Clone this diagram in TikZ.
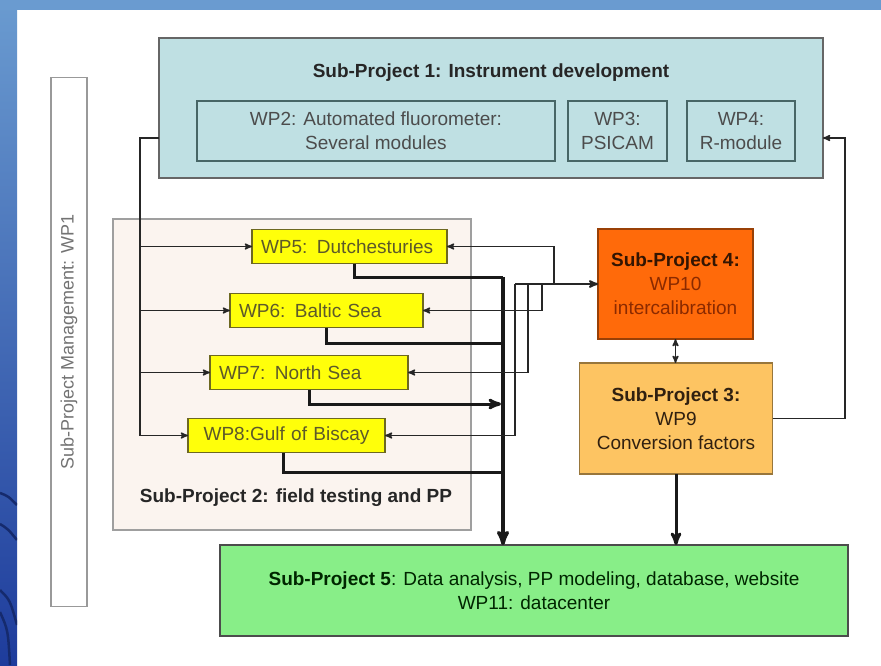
\documentclass[tikz,border=0pt]{standalone}
\usepackage{fontspec}
\setmainfont{Liberation Sans}
\usetikzlibrary{arrows,positioning}

\definecolor{frame}{HTML}{6A9BD0}
\definecolor{framedark}{HTML}{1E3C9C}
\definecolor{spone}{HTML}{BFE0E3}
\definecolor{sptwo}{HTML}{FBF4EF}
\definecolor{wpyellow}{HTML}{FFFF0A}
\definecolor{spfour}{HTML}{FF6A0A}
\definecolor{spthree}{HTML}{FDC462}
\definecolor{spfive}{HTML}{88EE88}
\definecolor{rust}{HTML}{8B2A00}

\tikzstyle{block} = [rectangle, draw=gray!80!black, line width=1.6pt, inner sep=0pt,
    outer sep=0pt, align=center, text=black!85]
\tikzstyle{wpbox} = [rectangle, draw=gray!70!teal!80!black, fill=spone, line width=1.3pt,
    inner sep=0pt, outer sep=0pt, minimum height=60pt, align=center, text=black!70]
\tikzstyle{fieldwp} = [rectangle, draw=olive!70!black, fill=wpyellow, line width=1.3pt,
    inner xsep=9pt, inner ysep=0pt, outer sep=0pt, minimum height=34pt, align=left,
    text=olive!55!black]
\tikzstyle{link} = [draw=black!85, line width=1.5pt]
\tikzstyle{feed} = [draw=black!90, line width=3pt]
\tikzstyle{heading} = [font=\fontsize{19}{24}\selectfont\bfseries, text=black!85]

\begin{document}
\begin{tikzpicture}[x=1pt,y=-1pt,>=stealth',font=\fontsize{19}{24}\selectfont]

  \useasboundingbox (0,0) rectangle (881,665);
  \fill[white] (0,0) rectangle (881,665);
  \shade[top color=frame, bottom color=framedark] (0,0) rectangle (17,665);
  \fill[frame] (0,0) rectangle (881,10);
  \begin{scope}
    \clip (0,0) rectangle (17,665);
    \draw[framedark!70!black, line width=2.5pt] (0,493) .. controls (8,496) .. (17,505);
    \draw[framedark!70!black, line width=2.5pt] (0,524) .. controls (8,529) .. (17,540);
    \draw[framedark!70!black, line width=2.5pt] (0,590) .. controls (10,600) .. (17,625);
    \draw[framedark!70!black, line width=2.5pt] (0,612) .. controls (8,630) .. (10,665);
  \end{scope}

  \node[block, fill=white, draw=gray!80, rotate=90, minimum width=529pt, minimum height=36pt,
        text=gray!90!black, font=\fontsize{18}{22}\selectfont] (wp1) at (69,342)
        {Sub-Project Management: WP1};

  \node[block, fill=spone, minimum width=664pt, minimum height=140pt] (sp1) at (491,108) {};
  \node[heading] (sp1t) at (491,73) {Sub-Project 1: Instrument development};
  \node[wpbox, minimum width=358pt] (wp2) at (376,131) {WP2: Automated fluorometer:\\Several modules};
  \node[wpbox, minimum width=99pt]  (wp3) [right=13pt of wp2] {WP3:\\PSICAM};
  \node[wpbox, minimum width=108pt] (wp4) [right=20pt of wp3] {WP4:\\R-module};

  \node[block, draw=gray!75, fill=sptwo, minimum width=358pt, minimum height=311pt] (sp2) at (292,374.5) {};
  \node[heading] (sp2t) at (296,498) {Sub-Project 2: field testing and PP};
  \node[fieldwp, text width=177pt] (wp5) at (349.5,246.5) {WP5: Dutchesturies};
  \node[fieldwp, text width=175pt] (wp6) at (326.5,310.5) {WP6: Baltic Sea};
  \node[fieldwp, text width=180pt] (wp7) at (309,372.5) {WP7: North Sea};
  \node[fieldwp, text width=179pt, align=center] (wp8) at (286.5,435.5) {WP8:Gulf of Biscay};

  \node[block, draw=spfour!60!black, fill=spfour, minimum width=155pt, minimum height=110pt,
        text=rust] (sp4) at (675.5,284)
        {\textcolor{black!80!spfour}{\bfseries Sub-Project 4:}\\WP10\\intercalibration};
  \node[block, draw=spthree!60!black, fill=spthree, minimum width=193pt, minimum height=111pt,
        text=black!75!brown] (sp3) at (676,418.5)
        {\bfseries Sub-Project 3:\\WP9\\Conversion factors};
  \node[block, draw=black!70, fill=spfive, minimum width=628pt, minimum height=91pt,
        text=black!85!green] (sp5) at (534,590.5)
        {\textbf{Sub-Project 5}: Data analysis, PP modeling, database, website\\WP11: datacenter};

  \coordinate (spine) at (140,138);
  \coordinate (c5) at (503,277);
  \coordinate (c6) at (503,343);
  \coordinate (c7) at (503,404);
  \coordinate (c8) at (503,472);
  \coordinate (t5) at (554,284);
  \coordinate (t6) at (542,284);
  \coordinate (t7) at (528,284);
  \coordinate (t8) at (515,284);
  \coordinate (ret) at (845,138);

  \draw[link,->] (sp1.west |- spine) -- (spine) |- (wp8.west);
  \draw[link,->] (spine |- wp5.west) -- (wp5.west);
  \draw[link,->] (spine |- wp6.west) -- (wp6.west);
  \draw[link,->] (spine |- wp7.west) -- (wp7.west);

  \draw[feed] ([xshift=5pt]wp5.south) |- (c5);
  \draw[feed] (wp6.south) |- (c6);
  \draw[feed,->,shorten >=2pt] (wp7.south) |- (c7);
  \draw[feed] ([xshift=-3pt]wp8.south) |- (c8);
  \draw[feed,line width=3.5pt,->] (c5) -- (c5 |- sp5.north);

  \draw[link,line width=2pt,->] (t8) -- (sp4.west);
  \draw[link,->] (t5) |- (wp5.east);
  \draw[link,->] (t6) |- (wp6.east);
  \draw[link,->] (t7) |- (wp7.east);
  \draw[link,->] (t8) |- (wp8.east);

  \draw[link,<->] (sp4.south) -- (sp4.south |- sp3.north);
  \draw[link,->] (sp3.east) -| (ret) -- (ret -| sp1.east);
  \draw[feed,->] (sp3.south) -- (sp3.south |- sp5.north);

\end{tikzpicture}
\end{document}
